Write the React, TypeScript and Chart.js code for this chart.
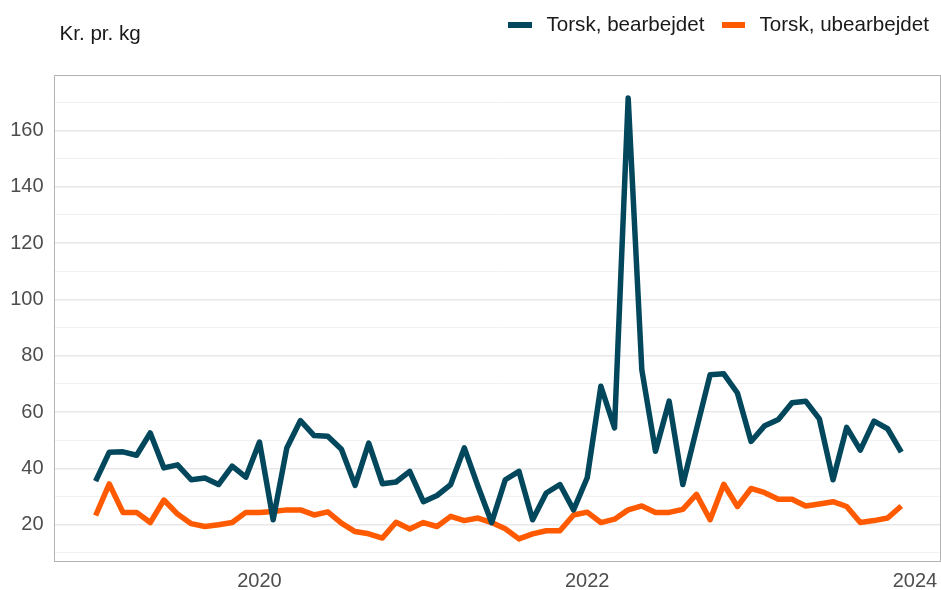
import React, { useEffect, useRef } from "react";
import { Chart, registerables } from "chart.js";

Chart.register(...registerables);

const startYear = 2019;
const monthCount = 60; // Jan 2019 .. Dec 2023

const torskBearbejdet = [
  35.5, 45.8, 45.9, 44.7, 52.6, 40.2, 41.3, 36.0, 36.6, 34.3, 40.8, 36.9,
  49.4, 21.8, 47.3, 57.0, 51.7, 51.4, 46.8, 34.0, 49.0, 34.6, 35.2, 39.0,
  28.2, 30.4, 34.3, 47.3, 33.7, 20.8, 36.0, 39.0, 21.8, 31.3, 34.3, 25.3,
  36.7, 69.2, 54.4, 171.5, 75.0, 46.1, 63.9, 34.3, 53.9, 73.3, 73.6, 66.8,
  49.6, 55.2, 57.4, 63.3, 63.9, 57.6, 36.0, 54.6, 46.5, 56.8, 54.1, 45.8,
];

const torskUbearbejdet = [
  23.3, 34.5, 24.4, 24.4, 20.8, 28.8, 23.8, 20.4, 19.4, 20.0, 20.8, 24.4,
  24.4, 24.7, 25.3, 25.3, 23.5, 24.6, 20.6, 17.6, 16.8, 15.3, 20.9, 18.5,
  20.8, 19.4, 23.0, 21.5, 22.4, 20.8, 18.6, 15.0, 16.8, 17.9, 17.9, 23.5,
  24.5, 20.8, 22.0, 25.3, 26.7, 24.4, 24.4, 25.5, 30.8, 21.8, 34.4, 26.5,
  32.9, 31.4, 29.1, 29.1, 26.7, 27.4, 28.2, 26.5, 20.8, 21.5, 22.4, 26.7,
];

const xTickYears = [2020, 2022, 2024];
const yTickValues = [10, 20, 30, 40, 50, 60, 70, 80, 90, 100, 110, 120, 130, 140, 150, 160, 170];

const seriesNames = ["Torsk, bearbejdet", "Torsk, ubearbejdet"];
const seriesColors = ["#02475C", "#FF5A00"];

const FONT = '"Liberation Sans", Arial, sans-serif';

const monthX = Array.from({ length: monthCount }, (_, i) => startYear + i / 12);

const borderPlugin = {
  id: "panelBorder",
  afterDraw(chart: any) {
    const { ctx, chartArea } = chart;
    ctx.save();
    ctx.strokeStyle = "#b3b3b3";
    ctx.lineWidth = 1;
    ctx.strokeRect(
      Math.round(chartArea.left) - 0.5,
      Math.round(chartArea.top) + 0.5,
      Math.round(chartArea.right - chartArea.left),
      Math.round(chartArea.bottom - chartArea.top)
    );
    ctx.restore();
  },
};

export default function App() {
  const ref = useRef<HTMLCanvasElement | null>(null);

  useEffect(() => {
    if (!ref.current) return;
    const mk = (vals: number[]) => vals.map((v, i) => ({ x: monthX[i], y: v }));
    const chart = new Chart(ref.current, {
      type: "line",
      data: {
        datasets: [
          {
            label: seriesNames[0],
            data: mk(torskBearbejdet),
            borderColor: seriesColors[0],
            backgroundColor: seriesColors[0],
            borderWidth: 5.5,
            pointRadius: 0,
            tension: 0,
            borderJoinStyle: "round",
          },
          {
            label: seriesNames[1],
            data: mk(torskUbearbejdet),
            borderColor: seriesColors[1],
            backgroundColor: seriesColors[1],
            borderWidth: 5.5,
            pointRadius: 0,
            tension: 0,
            borderJoinStyle: "round",
          },
        ],
      },
      options: {
        responsive: false,
        animation: false,
        events: [],
        layout: { padding: { top: 75, right: 0.5, left: 0, bottom: 0 } },
        plugins: {
          legend: { display: false },
          title: { display: false },
          tooltip: { enabled: false },
        },
        scales: {
          x: {
            type: "linear",
            min: 2018.749,
            max: 2024.156,
            afterFit: (s: any) => {
              s.height = 29;
              s.paddingLeft = 0;
              s.paddingRight = 0;
            },
            afterBuildTicks: (s: any) => {
              s.ticks = xTickYears.map((v) => ({ value: v }));
            },
            grid: { display: false, drawTicks: false },
            border: { display: false },
            ticks: {
              padding: 8,
              color: "#4d4d4d",
              font: { family: FONT, size: 20 },
              maxRotation: 0,
              autoSkip: false,
              callback: (v: any) => String(v),
            },
          },
          y: {
            type: "linear",
            min: 7.15,
            max: 179.7,
            afterFit: (s: any) => {
              s.width = 54.5;
              s.paddingTop = 0;
              s.paddingBottom = 0;
            },
            afterBuildTicks: (s: any) => {
              s.ticks = yTickValues.map((v) => ({ value: v }));
            },
            grid: {
              drawTicks: false,
              color: (c: any) => (c.tick && c.tick.value % 20 === 0 ? "#e8e8e8" : "#f0f0f0"),
              lineWidth: (c: any) => (c.tick && c.tick.value % 20 === 0 ? 1.6 : 0.9),
            },
            border: { display: false },
            ticks: {
              padding: 11,
              color: "#4d4d4d",
              font: { family: FONT, size: 20 },
              autoSkip: false,
              callback: (v: any) => (Number(v) % 20 === 0 ? String(v) : ""),
            },
          },
        },
      },
      plugins: [borderPlugin],
    });
    return () => chart.destroy();
  }, []);

  const textStyle: React.CSSProperties = {
    position: "absolute",
    fontFamily: FONT,
    fontSize: 20.6,
    lineHeight: "24px",
    color: "#1a1a1a",
    whiteSpace: "nowrap",
  };

  return (
    <div style={{ position: "absolute", left: 0, top: 0, width: 941, height: 590, background: "#fff" }}>
      <canvas ref={ref} width={941} height={590} style={{ position: "absolute", left: 0, top: 0 }} />
      <div style={{ ...textStyle, left: 59.5, top: 21 }}>Kr. pr. kg</div>
      <div style={{ position: "absolute", left: 508, top: 22, width: 24, height: 6, background: seriesColors[0] }} />
      <div style={{ ...textStyle, left: 546.5, top: 12 }}>{seriesNames[0]}</div>
      <div style={{ position: "absolute", left: 721.5, top: 22, width: 23, height: 6, background: seriesColors[1] }} />
      <div style={{ ...textStyle, left: 759.5, top: 12 }}>{seriesNames[1]}</div>
    </div>
  );
}
